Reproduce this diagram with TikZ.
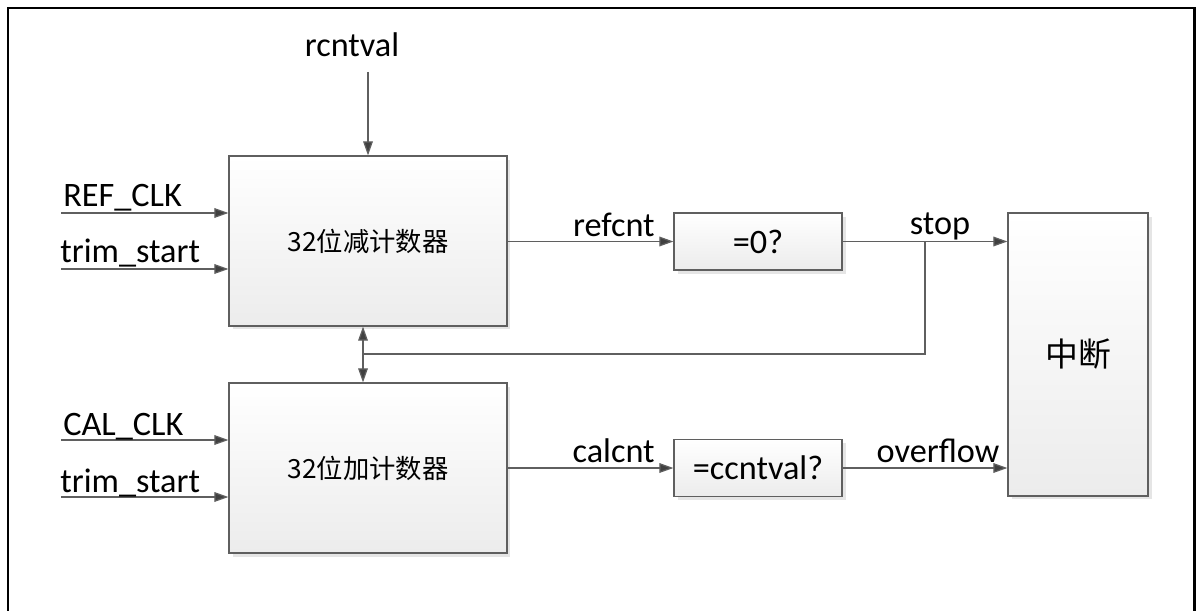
\documentclass[tikz,border=0pt]{standalone}
\usepackage{fontspec}
\setmainfont{Carlito}
\newfontfamily\cjk{Noto Sans CJK SC}
\usetikzlibrary{arrows.meta, positioning, calc, shadows}
\definecolor{edgegray}{RGB}{95, 95, 95}
\definecolor{tipgray}{RGB}{64, 64, 64}
\definecolor{boxbottom}{RGB}{236, 236, 236}
\tikzset{
  block/.style={draw=edgegray, line width=0.7pt, top color=white, bottom color=boxbottom, inner sep=0pt,
    drop shadow={shadow xshift=2pt, shadow yshift=-2pt, fill=black!10, opacity=1}},
  sig/.style={draw=edgegray, line width=0.7pt, -{Triangle[length=8pt, width=5.5pt, fill=tipgray]}},
  lbl/.style={font=\fontsize{19.5}{22}\selectfont, inner sep=0pt}
}

\begin{document}
\begin{tikzpicture}[x=0.02cm, y=-0.02cm]
                \useasboundingbox (0,0) rectangle (1196,611);
                \clip (0,0) rectangle (1196,611);
                % frame
                \draw[line width=1.7pt] (8,640) -- (8,8) -- (1194,8) -- (1194,640);
                % counters
                \node[block, minimum width=5.56cm, minimum height=3.4cm, font=\cjk\fontsize{15}{18}\selectfont] (dec) at (368,241) {32位减计数器};
                \node[block, minimum width=5.56cm, minimum height=3.4cm, font=\cjk\fontsize{15}{18}\selectfont] (inc) at (368,468) {32位加计数器};
                % compare
                \node[block, minimum width=3.36cm, minimum height=1.14cm, lbl] (zero) at (758,241.5) {=0?};
                \node[block, minimum width=3.36cm, minimum height=1.14cm, lbl] (match) at (758,468) {=ccntval?};
                % interrupt
                \node[block, minimum width=2.8cm, minimum height=5.66cm, font=\cjk\fontsize{18.7}{22}\selectfont] (irq) at (1078,354.5) {中断};

                % inputs
                \coordinate (rtop) at (368,72);
                \coordinate (refin) at (61,213);
                \coordinate (trima) at (61,269);
                \coordinate (calin) at (61,440);
                \coordinate (trimb) at (61,497);
                \draw[sig] (rtop) -- (dec.north);
                \draw[sig] (refin) -- (refin -| dec.west);
                \draw[sig] (trima) -- (trima -| dec.west);
                \draw[sig] (calin) -- (calin -| inc.west);
                \draw[sig] (trimb) -- (trimb -| inc.west);
                \node[lbl, anchor=base] (rlab) at (352,57) {rcntval};
                \node[lbl, anchor=base west] (reflab) at (63,207) {REF\_CLK};
                \node[lbl, anchor=base west] (trimlaba) at (60,262) {trim\_start};
                \node[lbl, anchor=base west] (callab) at (63,435) {CAL\_CLK};
                \node[lbl, anchor=base west] (trimlabb) at (60,492) {trim\_start};

                % outputs
                \draw[sig] (dec.east |- zero) -- (zero.west);
                \draw[sig] (inc.east |- match) -- (match.west);
                \draw[sig] (zero.east) -- (zero.east -| irq.west);
                \draw[sig] (match.east) -- (match.east -| irq.west);
                \node[lbl, anchor=base east] (reflbl) at (655,236) {refcnt};
                \node[lbl, anchor=base east] (callbl) at (655,462) {calcnt};
                \node[lbl, anchor=base] (stoplbl) at (940,235) {stop};
                \node[lbl, anchor=base] (ovflbl) at (938,462) {overflow};

                % stop feedback
                \coordinate (tap) at (925,241.5);
                \coordinate (turn) at (925,354);
                \coordinate (join) at (363,354);
                \draw[draw=edgegray, line width=0.7pt] (tap) -- (turn) -- (join);
                \draw[sig] (join) -- (join |- dec.south);
                \draw[sig] (join) -- (join |- inc.north);
\end{tikzpicture}
\end{document}
